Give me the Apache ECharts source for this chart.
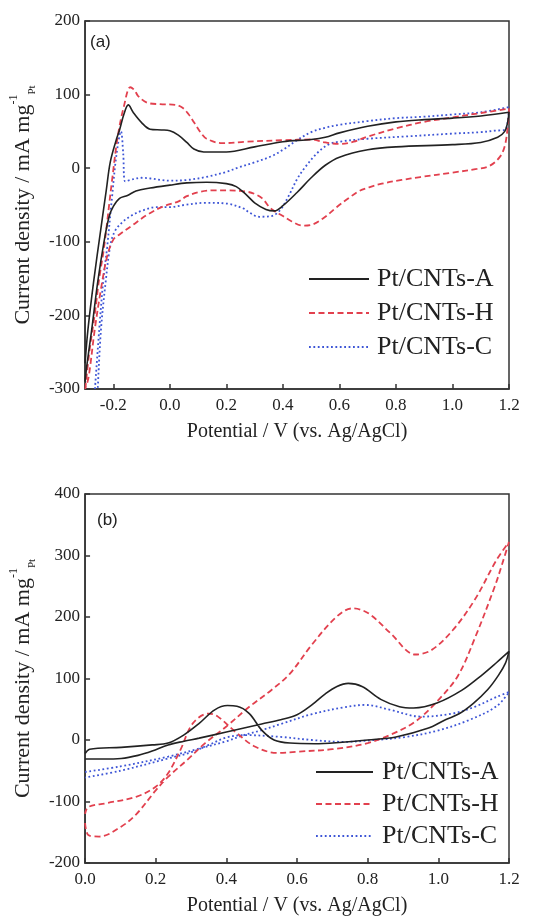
<!DOCTYPE html>
<html>
<head>
<meta charset="utf-8">
<script src="https://cdn.jsdelivr.net/npm/echarts@6/dist/echarts.min.js"></script>
<style>
  html, body { margin: 0; padding: 0; background: #fff; }
  #cv { width: 549px; height: 917px; }
</style>
</head>
<body>
<div id="cv"></div>
<script>
// (a) CV curves, [potential, current] - forward scan then reverse scan
var aCNTsA = [[-0.3,-265],[-0.29,-220],[-0.27,-155],[-0.244,-82],[-0.225,-30],[-0.211,8],[-0.19,38],[-0.178,52],[-0.162,74],[-0.147,86],[-0.13,76],[-0.1,62],[-0.07,53],[-0.03,52],[0.0,51],[0.03,45],[0.06,35],[0.085,26],[0.12,22],[0.2,22],[0.3,29],[0.4,36],[0.5,39],[0.55,42],[0.6,48],[0.7,57],[0.8,63],[0.9,66],[1.0,68],[1.1,71],[1.2,76],
  [1.195,62],[1.185,50],[1.16,42],[1.1,35],[1.0,32],[0.8,29],[0.7,25],[0.6,15],[0.55,4],[0.5,-13],[0.45,-33],[0.4,-51],[0.37,-58],[0.34,-56],[0.3,-47],[0.27,-36],[0.235,-25],[0.2,-21],[0.13,-19],[0.06,-20],[0.0,-23],[-0.07,-27],[-0.12,-31],[-0.15,-37],[-0.178,-41],[-0.2,-52],[-0.215,-66],[-0.233,-100],[-0.255,-154],[-0.277,-221],[-0.293,-266],[-0.3,-290]];
var aCNTsH = [[-0.299,-300],[-0.285,-250],[-0.266,-199],[-0.25,-150],[-0.233,-108],[-0.205,-18],[-0.184,44],[-0.162,85],[-0.14,110],[-0.125,106],[-0.112,98],[-0.08,89],[-0.035,87],[0.02,86],[0.045,82],[0.065,74],[0.086,62],[0.11,48],[0.13,40],[0.185,34],[0.27,36],[0.4,38],[0.5,39],[0.55,35],[0.6,33],[0.65,36],[0.7,43],[0.8,54],[0.9,63],[1.0,69],[1.1,75],[1.2,81],
  [1.195,55],[1.185,30],[1.167,15],[1.13,3],[1.086,-1],[1.0,-6],[0.886,-12],[0.82,-16],[0.75,-21],[0.705,-26],[0.67,-31],[0.635,-40],[0.59,-53],[0.543,-68],[0.5,-77],[0.47,-78],[0.43,-72],[0.4,-65],[0.358,-55],[0.327,-41],[0.3,-35],[0.273,-32],[0.2,-30],[0.163,-30],[0.108,-32],[0.06,-38],[0.031,-45],[-0.024,-52],[-0.079,-63],[-0.134,-78],[-0.178,-90],[-0.2,-97],[-0.222,-120],[-0.244,-165],[-0.266,-220],[-0.288,-285],[-0.3,-300]];
var aCNTsC = [[-0.265,-300],[-0.25,-220],[-0.235,-150],[-0.222,-108],[-0.205,-41],[-0.189,18],[-0.173,50],[-0.165,20],[-0.158,-18],[-0.13,-15],[-0.1,-13],[-0.068,-14],[-0.03,-16],[0.0,-17],[0.06,-16],[0.127,-12],[0.2,-5],[0.243,1],[0.3,8],[0.358,16],[0.4,25],[0.45,38],[0.5,49],[0.55,55],[0.6,59],[0.7,64],[0.8,68],[0.9,70],[1.0,73],[1.1,76],[1.2,83],
  [1.195,62],[1.185,52],[1.15,51],[1.1,49],[1.0,47],[0.83,43],[0.7,40],[0.6,36],[0.56,32],[0.52,20],[0.48,2],[0.45,-15],[0.42,-38],[0.39,-57],[0.36,-65],[0.316,-66],[0.28,-60],[0.262,-55],[0.2,-48],[0.127,-47],[0.05,-50],[0.0,-53],[-0.05,-53],[-0.1,-58],[-0.134,-64],[-0.167,-73],[-0.195,-86],[-0.211,-106],[-0.227,-154],[-0.244,-221],[-0.255,-300]];

// (b) CV curves
var bCNTsA = [[0,-31],[0.05,-31],[0.102,-30],[0.15,-25],[0.19,-18],[0.235,-8],[0.28,-2],[0.323,3],[0.4,13],[0.5,26],[0.554,33],[0.6,41],[0.642,57],[0.68,75],[0.713,87],[0.745,92],[0.784,87],[0.837,66],[0.89,54],[0.93,52],[0.996,60],[1.067,81],[1.12,104],[1.165,126],[1.2,144],
  [1.19,125],[1.17,105],[1.14,82],[1.1,60],[1.06,43],[1.02,33],[0.97,19],[0.88,5],[0.8,0],[0.72,-4],[0.65,-6],[0.58,-5],[0.535,0],[0.5,16],[0.465,43],[0.43,55],[0.403,56],[0.367,49],[0.323,27],[0.279,8],[0.235,-5],[0.19,-8],[0.102,-12],[0.013,-15],[0,-22]];
var bCNTsH = [[0,-135],[0.01,-155],[0.04,-157],[0.102,-141],[0.146,-120],[0.2,-82],[0.235,-60],[0.288,-33],[0.34,-5],[0.4,22],[0.465,54],[0.527,81],[0.58,108],[0.642,155],[0.713,201],[0.757,214],[0.802,206],[0.864,174],[0.935,139],[0.98,146],[1.04,178],[1.103,228],[1.165,293],[1.2,322],
  [1.18,285],[1.16,250],[1.105,168],[1.056,105],[1.0,65],[0.935,30],[0.87,10],[0.8,-5],[0.7,-15],[0.6,-19],[0.544,-21],[0.482,-11],[0.43,11],[0.376,38],[0.35,43],[0.305,27],[0.27,-16],[0.235,-54],[0.2,-76],[0.146,-92],[0.058,-103],[0.009,-109],[0,-120]];
var bCNTsC = [[0,-52],[0.1,-43],[0.235,-27],[0.323,-14],[0.4,-2],[0.45,8],[0.5,16],[0.554,26],[0.642,42],[0.731,53],[0.793,57],[0.864,49],[0.952,38],[1.04,43],[1.103,54],[1.165,70],[1.2,78],
  [1.165,55],[1.085,32],[0.996,15],[0.908,5],[0.82,0],[0.731,-3],[0.642,0],[0.554,5],[0.45,8],[0.4,4],[0.35,-8],[0.3,-20],[0.235,-30],[0.1,-50],[0,-61]];

var names = ['Pt/CNTs-A', 'Pt/CNTs-H', 'Pt/CNTs-C'];
var aTicksX = [-0.2, 0, 0.2, 0.4, 0.6, 0.8, 1.0, 1.2];
var bTicksX = [0, 0.2, 0.4, 0.6, 0.8, 1.0, 1.2];

var serif = 'Liberation Serif';
var axisCol = '#333';
var lineCols = ['#222222', '#e2404e', '#3d55d6'];

function xAxisOf(grid, min, max, ticks) {
  return {
    gridIndex: grid, type: 'value', min: min, max: max,
    name: 'Potential / V (vs. Ag/AgCl)', nameLocation: 'middle', nameGap: 33,
    nameTextStyle: { fontFamily: serif, fontSize: 20, color: '#222' },
    axisLine: { onZero: false, lineStyle: { color: axisCol, width: 1.5 } },
    axisTick: { inside: true, length: 5, customValues: ticks, lineStyle: { color: axisCol, width: 1.5 } },
    axisLabel: { customValues: ticks, margin: 8, fontFamily: serif, fontSize: 17, color: '#222',
      formatter: function (v) { return v.toFixed(1); } },
    splitLine: { show: false }
  };
}

function yAxisOf(grid, min, max) {
  return {
    gridIndex: grid, type: 'value', min: min, max: max, interval: 100,
    name: '{m|Current density / mA mg}{s|-1}{b|Pt}', nameLocation: 'middle', nameRotate: 90, nameGap: 36,
    nameTextStyle: {
      fontFamily: serif, color: '#222',
      rich: {
        m: { fontFamily: serif, fontSize: 22, lineHeight: 30, verticalAlign: 'middle', color: '#222' },
        s: { fontFamily: serif, fontSize: 12, lineHeight: 12, verticalAlign: 'top', color: '#222' },
        b: { fontFamily: serif, fontSize: 11, lineHeight: 11, verticalAlign: 'bottom', color: '#222' }
      }
    },
    axisLine: { onZero: false, lineStyle: { color: axisCol, width: 1.5 } },
    axisTick: { inside: true, length: 5, lineStyle: { color: axisCol, width: 1.5 } },
    axisLabel: { margin: 5, fontFamily: serif, fontSize: 17, color: '#222' },
    splitLine: { show: false }
  };
}

function cvSeries(name, data, grid, k) {
  return {
    name: name, type: 'line', data: data,
    xAxisIndex: grid, yAxisIndex: grid,
    symbol: 'none', smooth: 0.35,
    lineStyle: {
      color: lineCols[k],
      width: k == 0 ? 1.6 : 1.8,
      type: k == 0 ? 'solid' : (k == 1 ? [6, 3.5] : [1.8, 2.6])
    },
    itemStyle: { color: lineCols[k] },
    z: 3 - k
  };
}

// legend: line only, no marker dot
function legendOf(left, top, w, rowH, pad) {
  return {
    orient: 'vertical', left: left, top: top, padding: 0,
    data: names, itemWidth: w, itemHeight: 14, itemGap: 4,
    itemStyle: { opacity: 0 },
    textStyle: { fontFamily: serif, fontSize: 26, lineHeight: rowH, color: '#222', padding: [0, 0, 0, pad] },
    selectedMode: false
  };
}

var chart = echarts.init(document.getElementById('cv'), null, { renderer: 'canvas' });
chart.setOption({
  animation: false,
  backgroundColor: '#fff',
  grid: [
    { left: 77, top: 21, width: 432, height: 368, show: true, borderColor: axisCol, borderWidth: 1.5 },
    { left: 77, top: 494, width: 432, height: 369, show: true, borderColor: axisCol, borderWidth: 1.5 }
  ],
  xAxis: [xAxisOf(0, -0.3, 1.2, aTicksX), xAxisOf(1, 0, 1.2, bTicksX)],
  yAxis: [yAxisOf(0, -300, 200), yAxisOf(1, -200, 400)],
  legend: [legendOf(308, 264, 60, 30, 3), legendOf(315, 758, 57, 28, 4)],
  graphic: [
    { type: 'text', left: 90, top: 34, style: { text: '(a)', font: '17px "Liberation Sans"', fill: '#222' } },
    { type: 'text', left: 97, top: 512, style: { text: '(b)', font: '17px "Liberation Sans"', fill: '#222' } }
  ],
  series: [
    cvSeries(names[0], aCNTsA, 0, 0),
    cvSeries(names[1], aCNTsH, 0, 1),
    cvSeries(names[2], aCNTsC, 0, 2),
    cvSeries(names[0], bCNTsA, 1, 0),
    cvSeries(names[1], bCNTsH, 1, 1),
    cvSeries(names[2], bCNTsC, 1, 2)
  ]
});
</script>
</body>
</html>
